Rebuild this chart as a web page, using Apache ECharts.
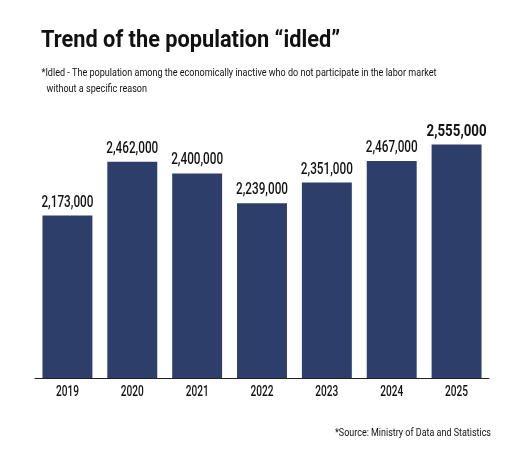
<!DOCTYPE html>
<html>
<head>
<meta charset="utf-8">
<script src="https://cdn.jsdelivr.net/npm/echarts@6/dist/echarts.min.js"></script>
<style>
html,body{margin:0;padding:0;background:#fff;}
#c{width:520px;height:450px;}
</style>
</head>
<body>
<div id="c"></div>
<script>
var categories = ['2019','2020','2021','2022','2023','2024','2025'];
var values = [2173000, 2462000, 2400000, 2239000, 2351000, 2467000, 2555000];
var titleText = 'Trend of the population \u201cidled\u201d';
var noteLine1 = '*Idled - The population among the economically inactive who do not participate in the labor market';
var noteLine2 = 'without a specific reason';
var sourceText = '*Source: Ministry of Data and Statistics';
var Y_MIN = 1300000, Y_MAX = 2800000;

var FAM = 'Roboto, "Liberation Sans", sans-serif';
var cv = document.createElement('canvas').getContext('2d');
function tw(text, size, weight){ cv.font = (weight||'normal') + ' ' + size + 'px ' + FAM; return cv.measureText(text).width; }
function fmt(v){ return v.toString().replace(/\B(?=(\d{3})+(?!\d))/g, ','); }

var sTitle = 299 / tw(titleText, 24, 'bold');
var sNote = 395 / tw(noteLine1, 11, 'normal');
var sSrc = 156 / tw(sourceText, 11, 'normal');
var sLab = 52 / tw('2,173,000', 16, '500');
var sLabB = 60 / tw('2,555,000', 17, 'bold');
var sYear = 23 / tw('2019', 15, '500');

function txt(text, x, y, size, weight, sx, align){
  return {type:'text', x:x, y:y, scaleX:sx, silent:true,
    style:{text:text, fontSize:size, fontWeight:weight, fontFamily:FAM, fill:'#111',
      align:align||'left', verticalAlign:'middle'}};
}

var chart = echarts.init(document.getElementById('c'), null, {renderer:'canvas'});
chart.setOption({
  backgroundColor:'#fff',
  animation:false,
  graphic:[
    txt(titleText, 41, 41, 24, 'bold', sTitle),
    txt(noteLine1, 41.5, 73, 11, 'normal', sNote),
    txt(noteLine2, 46.5, 89, 11, 'normal', sNote),
    txt(sourceText, 491, 433, 11, 'normal', sSrc, 'right')
  ],
  grid:{left:35, right:31, top:99, bottom:72, containLabel:false},
  xAxis:{
    type:'category', data:categories,
    axisLine:{lineStyle:{color:'#222', width:1}},
    axisTick:{show:false},
    axisLabel:{show:false}
  },
  yAxis:{
    type:'value', min:Y_MIN, max:Y_MAX,
    show:false, splitLine:{show:false}
  },
  series:[{
    type:'bar', data:values,
    barCategoryGap:'23%',
    itemStyle:{color:'#2d3e6b'},
    label:{show:false}
  },{
    type:'custom', silent:true, z:5,
    data: values.map(function(v,i){ return [i, v]; }),
    encode:{x:0, y:1},
    renderItem:function(params, api){
      var i = api.value(0), v = api.value(1);
      var top = api.coord([i, v]);
      var base = api.coord([i, Y_MIN]);
      var last = i === values.length - 1;
      return {type:'group', children:[
        last ? txt(fmt(v), top[0], top[1]-13, 17, 'bold', sLabB, 'center')
             : txt(fmt(v), top[0], top[1]-13, 16, '500', sLab, 'center'),
        txt(categories[i], base[0], base[1]+14, 15, '500', sYear, 'center')
      ]};
    }
  }]
});
</script>
</body>
</html>
